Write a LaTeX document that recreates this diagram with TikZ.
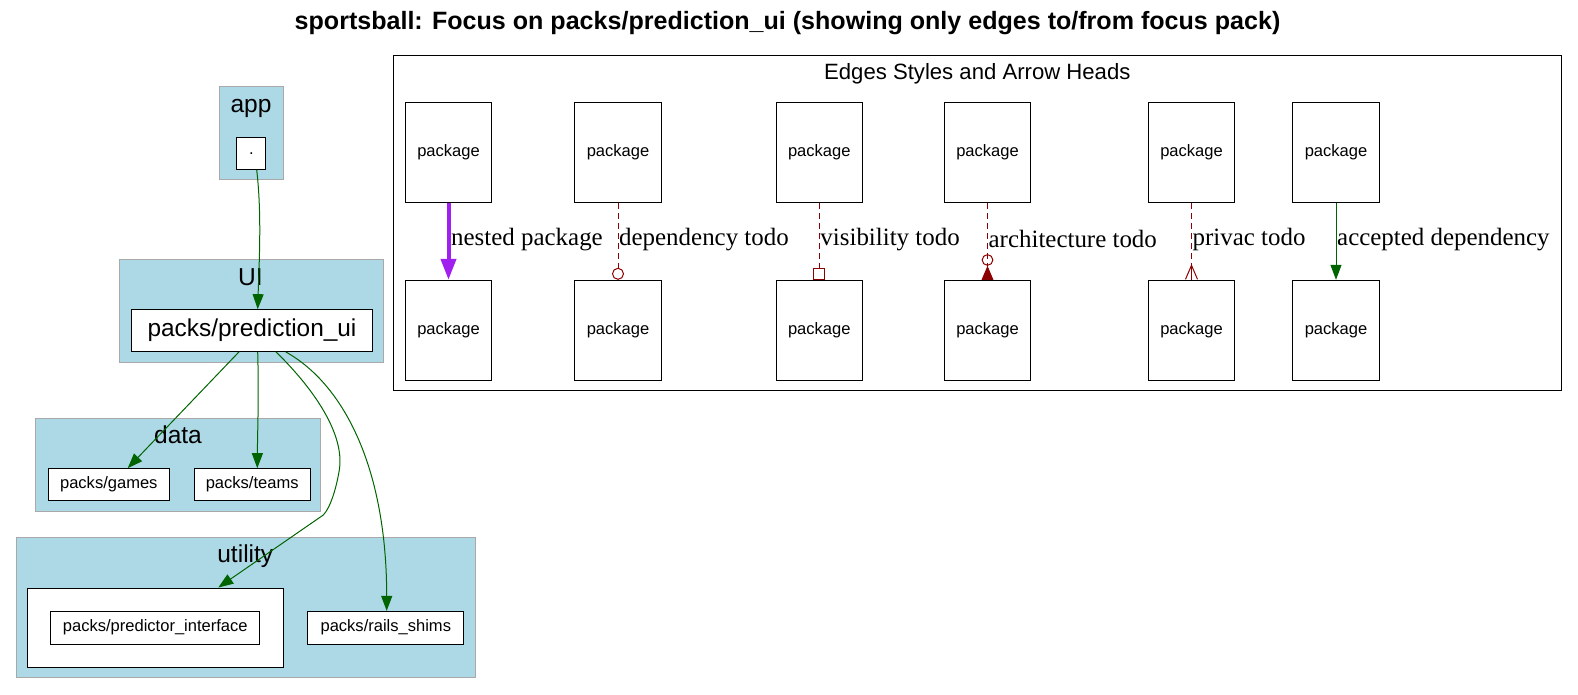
\documentclass[tikz,border=0pt]{standalone}
\usepackage{fontspec}
\setmainfont{Liberation Serif}
\setsansfont{Liberation Sans}
\usetikzlibrary{arrows.meta, calc}

\definecolor{clusterblue}{RGB}{173,216,230}
\definecolor{clustergray}{RGB}{169,169,169}
\definecolor{depgreen}{RGB}{0,100,0}
\definecolor{todored}{RGB}{139,0,0}
\definecolor{nestpurple}{RGB}{160,32,240}

\begin{document}
\begin{tikzpicture}[x=0.75pt,y=-0.75pt]
        \tikzset{box/.style={draw=black,fill=white,line width=0.75pt,inner sep=0pt,
                    font=\sffamily\fontsize{12.4}{14}\selectfont},
            pkg/.style={box,minimum width=64.9pt,minimum height=75pt},
            cluster/.style={draw=clustergray,fill=clusterblue,line width=0.75pt,inner sep=0pt},
            clabel/.style={anchor=base,inner sep=0pt,font=\sffamily\fontsize{18.4}{22}\selectfont},
            dep/.style={draw=depgreen,line width=0.75pt,-{Triangle[length=11.25pt,width=8.25pt]}},
            todo/.style={draw=todored,line width=0.75pt,dash pattern=on 4.5pt off 3pt},
            lab/.style={pos=0.47,anchor=west,inner sep=0.5pt,font=\rmfamily\fontsize{18.7}{22}\selectfont}}

        \useasboundingbox (0,0) rectangle (1578,694);

        \node[anchor=base,inner sep=0pt,font=\sffamily\bfseries\fontsize{18.8}{22}\selectfont] (title) at (787.5,29)
            {sportsball: Focus on packs/prediction\_ui (showing only edges to/from focus pack)};

        % clusters
        \node[cluster,minimum width=48.2pt,minimum height=70pt] (app) at (251.2,133.3) {};
        \node[cluster,minimum width=198pt,minimum height=77pt] (ui) at (251.3,311.3) {};
        \node[cluster,minimum width=213.75pt,minimum height=69.75pt] (data) at (178.2,464.5) {};
        \node[cluster,minimum width=344pt,minimum height=105.2pt] (util) at (245.7,607.2) {};
        \node[clabel] at (251,112.3) {app};
        \node[clabel] at (250.5,285) {UI};
        \node[clabel] at (178,443.3) {data};
        \node[clabel] at (245.3,562.7) {utility};

        \node[box,minimum width=21.5pt,minimum height=24pt] (dot) at (251.3,153.3) {.};
        \node[box,minimum width=180.5pt,minimum height=31.3pt,
            font=\sffamily\fontsize{18.3}{22}\selectfont] (pred) at (252,330.5) {packs/prediction\_ui};
        \node[box,minimum width=90.75pt,minimum height=24pt] (games) at (108.8,484.7) {packs/games};
        \node[box,minimum width=86.8pt,minimum height=24pt] (teams) at (252.2,484.7) {packs/teams};
        \node[box,minimum width=192pt,minimum height=59.25pt] (pifc) at (155.3,627.5) {};
        \node[box,minimum width=157pt,minimum height=24.5pt] (pint) at (155.3,627.7) {packs/predictor\_interface};
        \node[box,minimum width=117.2pt,minimum height=24.5pt] (shims) at (385.8,627.7) {packs/rails\_shims};

        \draw[dep] ($(dot.south)+(5.4,0)$) .. controls (262,215) and (259,265) .. (pred.north -| 257.7,0);
        \draw[dep] ($(pred.south)+(-13,0)$) -- (games.north -| 127.7,0);
        \draw[dep] ($(pred.south)+(5.7,0)$) .. controls (259,400) and (257.5,430) .. (teams.north -| 257.3,0);
        \draw[dep] ($(pred.south)+(24,0)$) .. controls (315,390) and (345,435) .. (339.3,470)
            .. controls (336,490) and (330,508) .. (323.3,515) -- (pifc.north -| 218.3,0);
        \draw[dep] ($(pred.south)+(33.7,0)$) .. controls (345,385) and (386.7,470) .. (shims.north -| 386.7,0);

        % legend
        \node[draw=black,line width=0.75pt,minimum width=875.8pt,minimum height=251.6pt] (legend) at (977.85,222.75) {};
        \node[anchor=base,inner sep=0pt,font=\sffamily\fontsize{16.6}{20}\selectfont] at (977.3,79.3) {Edges Styles and Arrow Heads};

        \foreach \i/\x in {1/448.5, 2/618, 3/819.3, 4/987.5, 5/1191.5, 6/1336} {
            \node[pkg] (t\i) at (\x,152.5) {package};
            \node[pkg] (b\i) at (\x,330.3) {package};
        }

        \draw[draw=nestpurple,line width=3pt,-{Triangle[length=15.75pt,width=11.25pt]}]
            (t1) -- node[lab] {nested package} (b1);
        \draw[todo,-{Circle[open,length=9pt,width=9pt,line width=0.75pt]}]
            (t2) -- node[lab] {dependency todo} (b2);
        \draw[todo,-{Square[open,length=8.75pt,width=8.75pt,line width=0.75pt]}]
            (t3) -- node[lab] {visibility todo} (b3);
        \draw[todo,-{Circle[open,length=8.75pt,width=8.75pt,line width=0.75pt]
                Triangle[reversed,fill=todored,length=10.5pt,width=8.75pt]}]
            (t4) -- node[lab] {architecture todo} (b4);
        \draw[todo,-{Straight Barb[reversed,length=10.5pt,width=9pt,line width=0.75pt]}]
            (t5) -- node[lab] {privac todo} (b5);
        \draw[draw=todored,line width=0.75pt] ($(b5.north)+(0,-14)$) -- (b5.north);
        \draw[dep] (t6) -- node[lab] {accepted dependency} (b6);
    \end{tikzpicture}
\end{document}
